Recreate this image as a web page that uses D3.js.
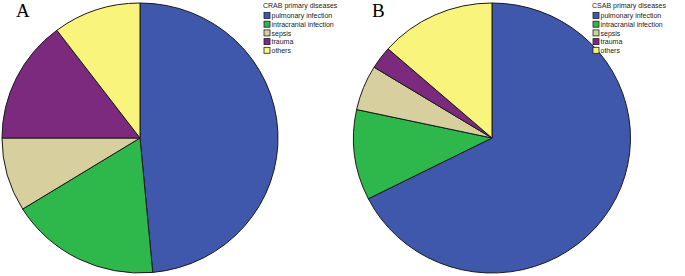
<!DOCTYPE html>
<html lang="en">
<head>
    <meta charset="UTF-8">
    <script src="https://cdnjs.cloudflare.com/ajax/libs/d3/7.8.5/d3.min.js"></script>
    <style>
        body { margin: 0; background: #fff; }
        svg { display: block; }
    </style>
</head>
<body>
    <svg width="685" height="276"></svg>
    <script>
        const categories = ['pulmonary infection', 'intracranial infection', 'sepsis', 'trauma', 'others'];
        const crabCounts = [33, 12, 6, 10, 7];
        const csabCounts = [25, 4, 2, 1, 5];
        const colors = ['#3f58ab', '#2eb84b', '#d7cf9d', '#7b2a7e', '#f9f47b'];

        const svg = d3.select('svg');
        const color = d3.scaleOrdinal().domain(categories).range(colors);
        const pie = d3.pie().sort(null).value(d => d.v);

        function drawPie(counts, cx, cy, rx, ry, panel, px, py, title, lx, ly) {
            const data = categories.map((c, i) => ({ c: c, v: counts[i] }));
            const arc = d3.arc().innerRadius(0).outerRadius(rx);

            svg.append('g')
                .attr('transform', `translate(${cx},${cy}) scale(1,${ry / rx})`)
                .selectAll('path')
                .data(pie(data))
                .enter()
                .append('path')
                .attr('d', arc)
                .style('fill', d => color(d.data.c))
                .style('stroke', '#1a1a1a')
                .style('stroke-width', '1px')
                .attr('vector-effect', 'non-scaling-stroke');

            svg.append('text')
                .attr('x', px).attr('y', py)
                .style('font-family', '"Liberation Serif", "Times New Roman", serif')
                .style('font-size', '19px')
                .text(panel);

            const lg = svg.append('g').attr('transform', `translate(${lx},${ly})`);
            lg.append('text')
                .attr('x', -1).attr('y', 0)
                .style('font-family', '"Liberation Sans", Arial, sans-serif')
                .style('font-size', '7px')
                .style('fill', '#222')
                .text(title);
            const row = lg.selectAll('g.row')
                .data(categories)
                .enter()
                .append('g')
                .attr('transform', (d, i) => `translate(0,${5 + i * 8.7})`);
            row.append('rect')
                .attr('width', 6).attr('height', 6)
                .style('fill', d => color(d))
                .style('stroke', '#222')
                .style('stroke-width', '0.8px');
            row.append('text')
                .attr('x', 7.5).attr('y', 5.6)
                .style('font-family', '"Liberation Sans", Arial, sans-serif')
                .style('font-size', '7px')
                .style('fill', '#222')
                .text(d => d);
        }

        drawPie(crabCounts, 140, 138, 138, 135, 'A', 16, 17, 'CRAB primary diseases', 264, 7.5);
        drawPie(csabCounts, 492, 138, 138.5, 135, 'B', 372, 17, 'CSAB primary diseases', 593, 7.5);
    </script>
</body>
</html>
